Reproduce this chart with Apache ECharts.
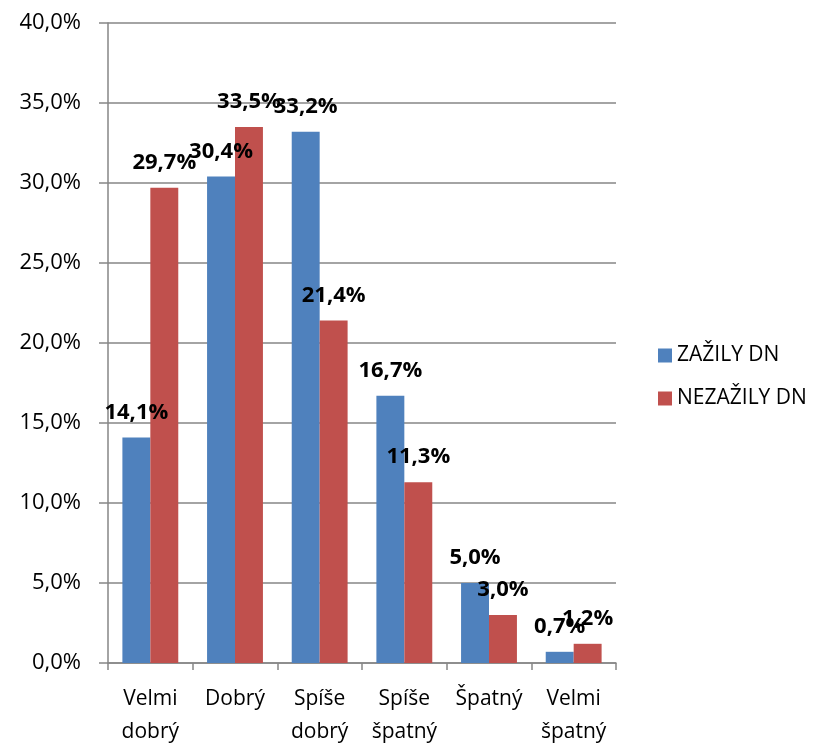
<!DOCTYPE html>
<html><head><meta charset="utf-8">
<script src="https://cdn.jsdelivr.net/npm/echarts@6/dist/echarts.min.js"></script>
<style>html,body{margin:0;padding:0;background:#fff}#c{width:821px;height:744px}</style>
</head><body><div id="c"></div>
<script>
var categories = ['Velmi\ndobrý', 'Dobrý', 'Spíše\ndobrý', 'Spíše\nšpatný', 'Špatný', 'Velmi\nšpatný'];
var zazily = [14.1, 30.4, 33.2, 16.7, 5.0, 0.7];
var nezazily = [29.7, 33.5, 21.4, 11.3, 3.0, 1.2];
var seriesNames = ['ZAŽILY DN', 'NEZAŽILY DN'];
var FONT = 'Open Sans';
function pct(v){ return v.toFixed(1).replace('.', ',') + '%'; }
var chart = echarts.init(document.getElementById('c'), null, {renderer:'canvas'});
var lbl = {show:true, position:'top', distance:14, fontFamily:FONT, fontSize:22, fontWeight:'bold', color:'#000',
  formatter:function(p){return pct(p.value);}};
chart.setOption({
  animation:false,
  textStyle:{fontFamily:FONT},
  grid:{left:108, right:205, top:23, bottom:81, containLabel:false, outerBoundsMode:'none'},
  legend:{orient:'vertical', left:653, top:340, itemWidth:14, itemHeight:14, itemGap:22,
    textStyle:{fontFamily:FONT, fontSize:21, color:'#000'}, icon:'rect', data:seriesNames},
  xAxis:{type:'category', data:categories,
    axisLine:{lineStyle:{color:'#868686', width:1.5}},
    axisTick:{show:true, length:7, lineStyle:{color:'#868686', width:1.5}, alignWithLabel:false},
    axisLabel:{fontFamily:FONT, fontSize:21, color:'#000', margin:20, lineHeight:33, interval:0}},
  yAxis:{type:'value', min:0, max:40, interval:5,
    axisLine:{show:true, lineStyle:{color:'#868686', width:1.5}},
    axisTick:{show:true, length:9, lineStyle:{color:'#868686', width:1.5}},
    splitLine:{lineStyle:{color:'#868686', width:1.5}},
    axisLabel:{fontFamily:FONT, fontSize:22, color:'#000', margin:27, align:'right',
      formatter:function(v){return pct(v);}}},
  series:[
    {name:seriesNames[0], type:'bar', data:zazily, barGap:'0%', barCategoryGap:'34%',
     itemStyle:{color:'#4F81BD'}, label:lbl},
    {name:seriesNames[1], type:'bar', data:nezazily, barGap:'0%', barCategoryGap:'34%',
     itemStyle:{color:'#C0504D'}, label:lbl}
  ]
});
</script></body></html>
